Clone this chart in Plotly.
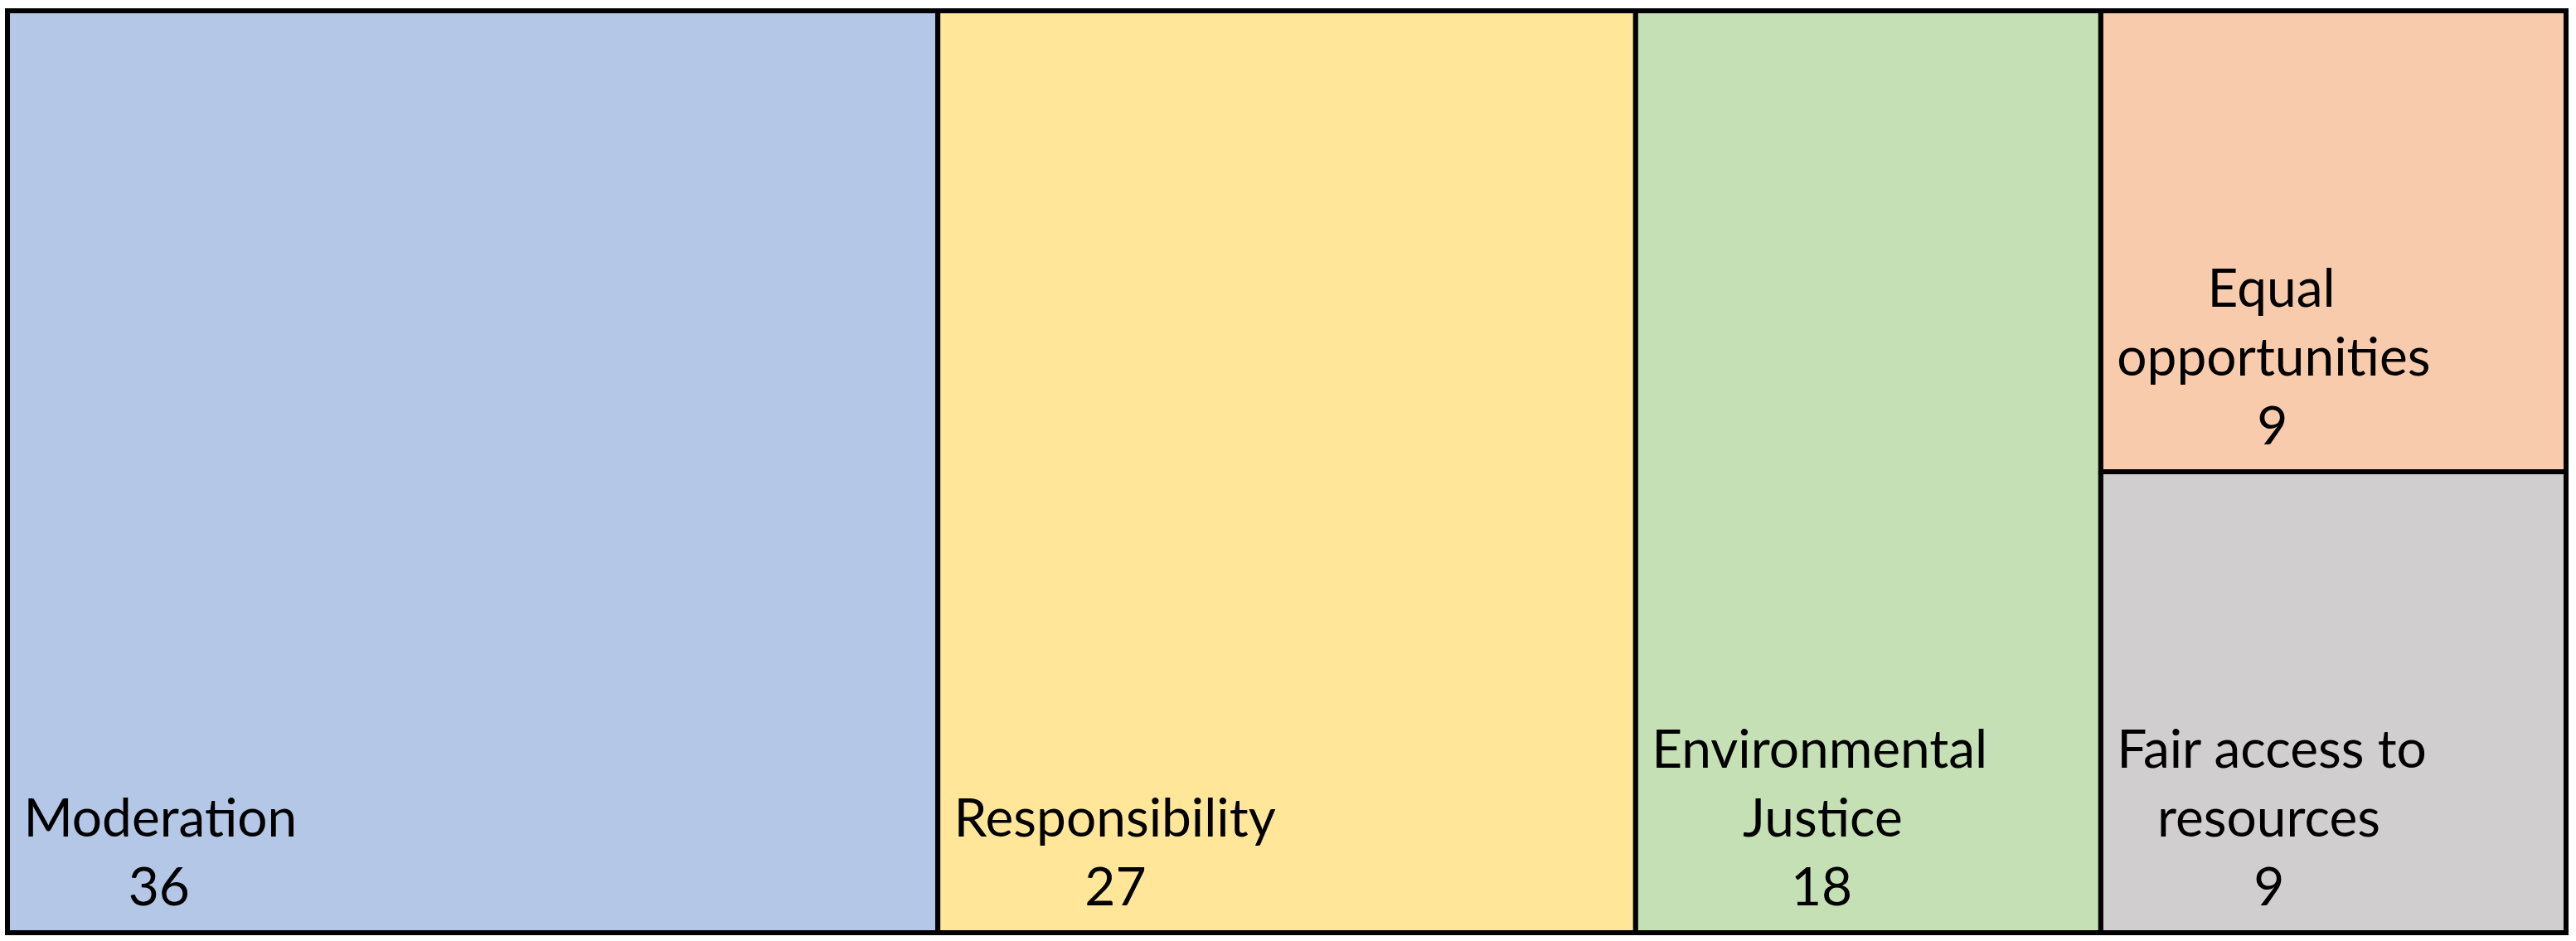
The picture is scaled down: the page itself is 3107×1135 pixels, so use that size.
import plotly.graph_objects as go

# treemap data
ids = ["Moderation", "Responsibility", "Environmental Justice", "group",
       "Equal opportunities", "Fair access to resources"]
parents = ["", "", "", "", "group", "group"]
values = [36, 27, 18, 0, 9, 9]
wrapped = [["Moderation"], ["Responsibility"], ["Environmental", "Justice"], [],
           ["Equal", "opportunities"], ["Fair access to", "resources"]]
colors = ["#B4C7E7", "#FFE699", "#C5E0B4", "#FFFFFF", "#F8CBAD", "#D0CECE"]

FONT_SIZE = 64
NBSP = "\u00a0"
# rough Lato advance widths (em) used to centre the label lines like Excel does
CHAR_W = {"M": 0.86, "E": 0.57, "F": 0.55, "J": 0.38, "R": 0.62,
          "a": 0.49, "b": 0.56, "c": 0.46, "d": 0.56, "e": 0.52, "f": 0.32,
          "i": 0.24, "l": 0.24, "m": 0.83, "n": 0.56, "o": 0.56, "p": 0.56,
          "q": 0.56, "r": 0.36, "s": 0.42, "t": 0.34, "u": 0.56, "v": 0.51,
          "y": 0.51, "j": 0.24, " ": 0.193}
SPACE_W = 0.255  # rendered width of a non-breaking space


def text_w(s):
    return sum(CHAR_W.get(c, 0.56 if c.isdigit() else 0.52) for c in s)


def indent(offset_em):
    n = int(offset_em // SPACE_W)
    rest = (offset_em - n * SPACE_W) / SPACE_W * FONT_SIZE
    s = NBSP * (n + 1)
    if rest >= 2:
        s += f'<span style="font-size:{rest:.1f}px">{NBSP}</span>'
    return s


def centred_label(lines, value):
    if not lines:
        return ""
    lines = lines + [str(value)]
    widest = max(text_w(l) for l in lines)
    out = [indent((widest - text_w(l)) / 2) + l for l in lines]
    # oversized trailing space lifts the block off the bottom edge
    return "<br>".join(out) + '<span style="font-size:140px">' + NBSP + "</span>"


texts = [centred_label(w, v) for w, v in zip(wrapped, values)]

fig = go.Figure(go.Treemap(
    ids=ids,
    labels=ids,
    parents=parents,
    values=values,
    branchvalues="remainder",
    sort=False,
    text=texts,
    texttemplate="%{text}",
    textposition="bottom left",
    textfont=dict(family="Lato, Calibri, sans-serif", size=FONT_SIZE, color="#000000"),
    marker=dict(
        colors=colors,
        line=dict(color="#000000", width=6),
        pad=dict(t=0, l=0, r=0, b=0),
    ),
    tiling=dict(packing="slice-dice", pad=0),
    pathbar=dict(visible=False),
    hoverinfo="skip",
))

fig.update_layout(
    width=3107,
    height=1135,
    margin=dict(l=9, r=12, t=13, b=10),
    paper_bgcolor="#ffffff",
    plot_bgcolor="#ffffff",
    showlegend=False,
)

fig.write_html("out.html", config={"displayModeBar": False},
               post_script="document.body.style.margin='0';")
